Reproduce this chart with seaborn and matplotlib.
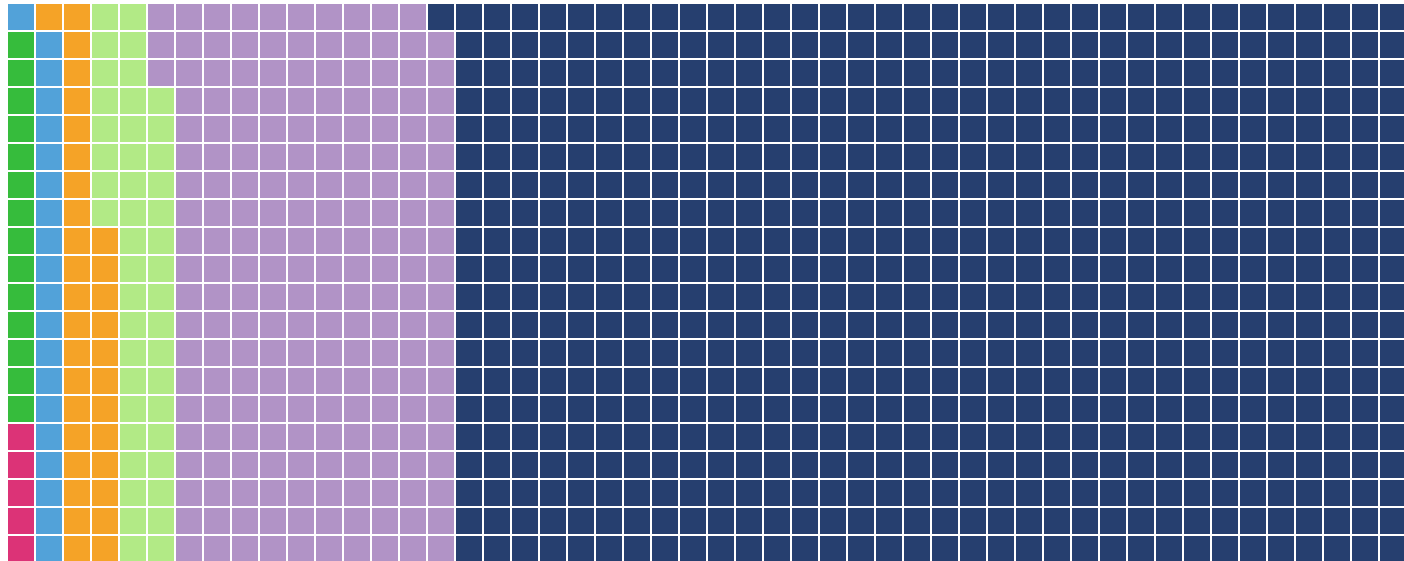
import numpy as np
import matplotlib
matplotlib.use("Agg")
import matplotlib.pyplot as plt
from matplotlib.colors import ListedColormap
import seaborn as sns


# waffle counts, in fill order (bottom-left, column by column, upwards)
CATEGORIES = ["pink", "green", "blue", "orange", "light green", "purple", "navy"]
COUNTS = [5, 14, 20, 33, 45, 202, 681]
COLORS = ["#DC3377", "#36BC3C", "#52A2D9", "#F5A327", "#B2EA86", "#B193C6", "#263F6F"]

N_ROWS = 20
N_COLS = 50


def build_grid(counts, n_rows, n_cols):
    labels = np.repeat(np.arange(len(counts)), counts)
    grid = np.zeros((n_rows, n_cols), dtype=int)
    for k, lab in enumerate(labels):
        col = k // n_rows
        row = n_rows - 1 - (k % n_rows)
        grid[row, col] = lab
    return grid


grid = build_grid(COUNTS, N_ROWS, N_COLS)

fig = plt.figure(figsize=(14.04, 5.61), dpi=100)
ax = fig.add_axes([7 / 1404, -2 / 561, 1400 / 1404, 560 / 561])

sns.heatmap(
    grid,
    ax=ax,
    cmap=ListedColormap(COLORS),
    vmin=-0.5,
    vmax=len(COLORS) - 0.5,
    cbar=False,
    linewidths=1.44,
    linecolor="white",
    square=False,
    xticklabels=False,
    yticklabels=False,
)
ax.set_xlabel("")
ax.set_ylabel("")
for s in ax.spines.values():
    s.set_visible(False)

fig.savefig("out.png", dpi=100, facecolor="white")
